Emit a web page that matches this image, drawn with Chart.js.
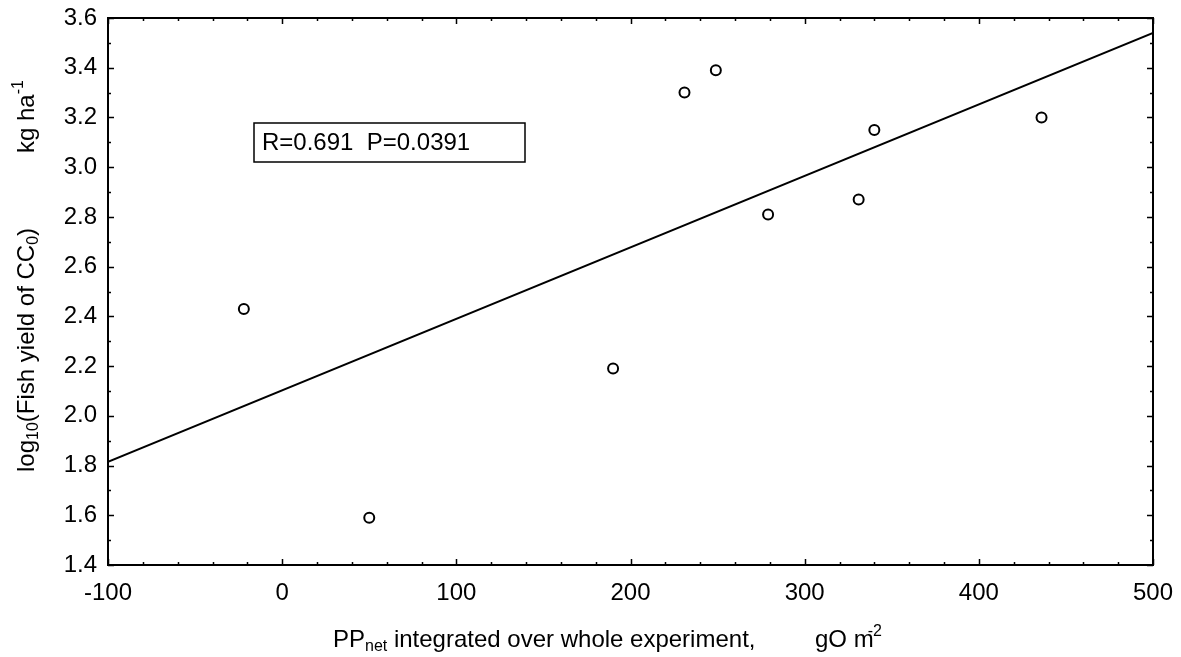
<!DOCTYPE html>
<html><head><meta charset="utf-8">
<script src="https://cdn.jsdelivr.net/npm/chart.js@4.4.1/dist/chart.umd.min.js"></script>
<style>html,body{margin:0;padding:0;background:#fff;}</style>
</head><body>
<canvas id="c" width="1181" height="657"></canvas>
<script>
// ---- data ----
const ppNet    = [-22, 50, 190, 231, 249, 279, 331, 340, 436];
const logYield = [2.43, 1.59, 2.19, 3.30, 3.39, 2.81, 2.87, 3.15, 3.20];
const fitX = [-100, 500];
const fitY = [1.815, 3.54];
const xTickValues = [-100, 0, 100, 200, 300, 400, 500];
const yTickValues = [1.4, 1.6, 1.8, 2.0, 2.2, 2.4, 2.6, 2.8, 3.0, 3.2, 3.4, 3.6];
const xMinorStep = 20;
const yMinorStep = 0.1;
const statsLabel = "R=0.691  P=0.0391";

const FONT = "Arial, 'Liberation Sans', sans-serif";
const FS = 24;
const SUB = 16;

function richText(ctx, x, y, parts) {
  for (const p of parts) {
    ctx.font = (p.size || FS) + "px " + FONT;
    ctx.fillText(p.t, x + (p.dx || 0), y + (p.dy || 0));
    x += ctx.measureText(p.t).width + (p.dx || 0);
  }
  return x;
}

const decor = {
  id: 'decor',
  afterDraw(chart) {
    const ctx = chart.ctx, a = chart.chartArea;
    const xs = chart.scales.x, ys = chart.scales.y;
    ctx.save();
    ctx.strokeStyle = '#000';
    ctx.fillStyle = '#000';
    // frame
    ctx.lineWidth = 2;
    ctx.strokeRect(a.left, a.top, a.right - a.left, a.bottom - a.top);
    // inward ticks on all sides
    ctx.lineWidth = 1.5;
    const isMajor = (v, arr) => arr.some(m => Math.abs(m - v) < 1e-6);
    for (let v = xs.min; v <= xs.max + 1e-9; v += xMinorStep) {
      const px = Math.round(xs.getPixelForValue(v)) + 0.5;
      const len = isMajor(v, xTickValues) ? 6 : 3;
      ctx.beginPath();
      ctx.moveTo(px, a.bottom); ctx.lineTo(px, a.bottom - len);
      ctx.moveTo(px, a.top); ctx.lineTo(px, a.top + len);
      ctx.stroke();
    }
    for (let i = 0; ; i++) {
      const v = ys.min + i * yMinorStep;
      if (v > ys.max + 1e-9) break;
      const py = Math.round(ys.getPixelForValue(v)) + 0.5;
      const len = isMajor(v, yTickValues) ? 6 : 3;
      ctx.beginPath();
      ctx.moveTo(a.left, py); ctx.lineTo(a.left + len, py);
      ctx.moveTo(a.right, py); ctx.lineTo(a.right - len, py);
      ctx.stroke();
    }
    // stats box
    const bx = a.left + 146, by = a.top + 105, bw = 271, bh = 39;
    ctx.lineWidth = 1.5;
    ctx.fillStyle = '#fff';
    ctx.fillRect(bx, by, bw, bh);
    ctx.strokeRect(bx, by, bw, bh);
    ctx.fillStyle = '#000';
    ctx.textBaseline = 'middle';
    ctx.textAlign = 'left';
    ctx.font = FS + "px " + FONT;
    ctx.fillText(statsLabel, bx + 8, by + bh / 2 + 1);
    // x title
    let x = richText(ctx, 333, 640, [
      {t: 'PP'}, {t: 'net', size: SUB, dy: 7}, {t: ' integrated over whole experiment,'}
    ]);
    x = richText(ctx, 815, 640, [{t: 'gO m'}]);
    richText(ctx, x - 6, 640, [{t: '-2', size: SUB, dy: -8}]);
    // y title (rotated)
    ctx.translate(27, 472);
    ctx.rotate(-Math.PI / 2);
    richText(ctx, 0, 0, [
      {t: 'log'}, {t: '10', size: SUB, dy: 7}, {t: '(Fish yield of CC'}, {t: '0', size: SUB, dy: 7}, {t: ')'}
    ]);
    x = richText(ctx, 319, 0, [{t: 'kg ha'}]);
    richText(ctx, x, 0, [{t: '-1', size: SUB, dy: -8}]);
    ctx.restore();
  }
};

new Chart(document.getElementById('c'), {
  type: 'scatter',
  data: {
    datasets: [
      {
        type: 'line',
        data: fitX.map((v, i) => ({x: v, y: fitY[i]})),
        borderColor: '#000', borderWidth: 1.8, pointRadius: 0, fill: false, tension: 0
      },
      {
        data: ppNet.map((v, i) => ({x: v, y: logYield[i]})),
        pointStyle: 'circle', pointRadius: 5, pointBorderWidth: 2,
        pointBorderColor: '#000', pointBackgroundColor: '#fff'
      }
    ]
  },
  plugins: [decor],
  options: {
    responsive: false, animation: false, devicePixelRatio: 1,
    layout: {padding: {left: 0, right: 28, top: 18, bottom: 0}},
    plugins: {legend: {display: false}, tooltip: {enabled: false}},
    scales: {
      x: {
        type: 'linear', min: -100, max: 500,
        grid: {display: false, drawTicks: false},
        border: {display: false},
        afterBuildTicks: s => { s.ticks = xTickValues.map(v => ({value: v})); },
        afterFit: s => { s.height = 92; s.paddingLeft = 0; s.paddingRight = 0; },
        ticks: {color: '#000', padding: 14, font: {family: FONT, size: FS}, maxRotation: 0,
                callback: v => String(v)}
      },
      y: {
        type: 'linear', min: 1.4, max: 3.6,
        grid: {display: false, drawTicks: false},
        border: {display: false},
        afterBuildTicks: s => { s.ticks = yTickValues.map(v => ({value: v})); },
        afterFit: s => { s.width = 108; s.paddingTop = 0; s.paddingBottom = 0; },
        ticks: {color: '#000', padding: 11, font: {family: FONT, size: FS},
                callback: v => Number(v).toFixed(1)}
      }
    }
  }
});
</script>
</body></html>
